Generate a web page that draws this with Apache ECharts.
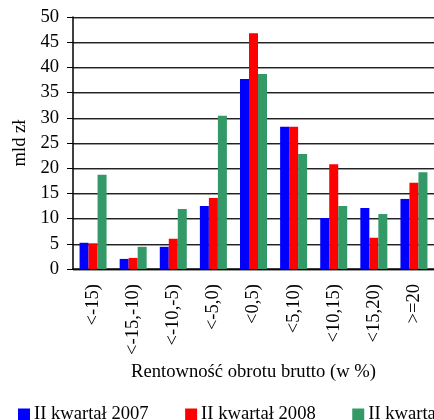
<!DOCTYPE html>
<html>
<head>
<meta charset="utf-8">
<script src="https://cdn.jsdelivr.net/npm/echarts@6/dist/echarts.min.js"></script>
<style>
  html, body { margin: 0; padding: 0; background: #fff; }
  #chart { width: 434px; height: 420px; }
</style>
</head>
<body>
<div id="chart"></div>
<script>
// Profitability brackets (gross turnover profitability, %)
const categories = ['<-15)', '<-15,-10)', '<-10,-5)', '<-5,0)', '<0,5)', '<5,10)', '<10,15)', '<15,20)', '>=20'];
const seriesNames = ['II kwartał 2007', 'II kwartał 2008', 'II kwartał 2009'];
// Values in bn PLN
const q2007 = [5.2, 2.0, 4.4, 12.5, 37.7, 28.2, 10.1, 12.1, 13.9];
const q2008 = [5.1, 2.2, 6.0, 14.1, 46.8, 28.2, 20.8, 6.2, 17.1];
const q2009 = [18.7, 4.4, 11.9, 30.4, 38.7, 22.8, 12.5, 10.9, 19.2];
const yTicks = { min: 0, max: 50, interval: 5 };

const colors = ['#0000FF', '#FF0000', '#339966'];
const font = '"Liberation Serif", "Times New Roman", serif';
const fs = 18.6;

const chart = echarts.init(document.getElementById('chart'), null, { renderer: 'canvas' });

const makeBar = (name, data) => ({
  name,
  type: 'bar',
  data,
  barWidth: 9,
  barGap: '0%',
  animation: false
});

chart.setOption({
  animation: false,
  color: colors,
  textStyle: { fontFamily: font, color: '#000' },
  grid: { left: 73, top: 17, width: 364.5, height: 252, containLabel: false },
  legend: {
    left: 18,
    top: 405,
    width: 800,
    padding: 0,
    itemWidth: 12,
    itemHeight: 12,
    itemGap: 36.5,
    icon: 'rect',
    textStyle: { fontFamily: font, fontSize: fs, color: '#000', padding: [0, 0, 0, -1] },
    data: seriesNames
  },
  xAxis: {
    type: 'category',
    data: categories,
    name: 'Rentowność obrotu brutto (w %)',
    nameLocation: 'middle',
    nameGap: 88,
    nameTextStyle: { fontFamily: font, fontSize: fs, color: '#000' },
    axisLine: { lineStyle: { color: '#000', width: 1.5 } },
    axisTick: { show: false },
    axisLabel: {
      rotate: 90,
      margin: 15,
      fontFamily: font,
      fontSize: fs,
      color: '#000'
    }
  },
  yAxis: {
    type: 'value',
    min: yTicks.min,
    max: yTicks.max,
    interval: yTicks.interval,
    name: 'mld zł',
    nameLocation: 'middle',
    nameRotate: 90,
    nameGap: 43,
    nameTextStyle: { fontFamily: font, fontSize: fs, color: '#000' },
    axisLine: { show: true, lineStyle: { color: '#000', width: 1.5 } },
    axisTick: { show: true, length: 6, lineStyle: { color: '#000', width: 1 } },
    axisLabel: { margin: 14, fontFamily: font, fontSize: fs, color: '#000' },
    splitLine: {
      show: true,
      lineStyle: { color: '#222', width: 1, shadowColor: '#999', shadowOffsetY: 1, shadowBlur: 0 }
    }
  },
  series: [
    makeBar(seriesNames[0], q2007),
    makeBar(seriesNames[1], q2008),
    makeBar(seriesNames[2], q2009)
  ]
});
</script>
</body>
</html>
